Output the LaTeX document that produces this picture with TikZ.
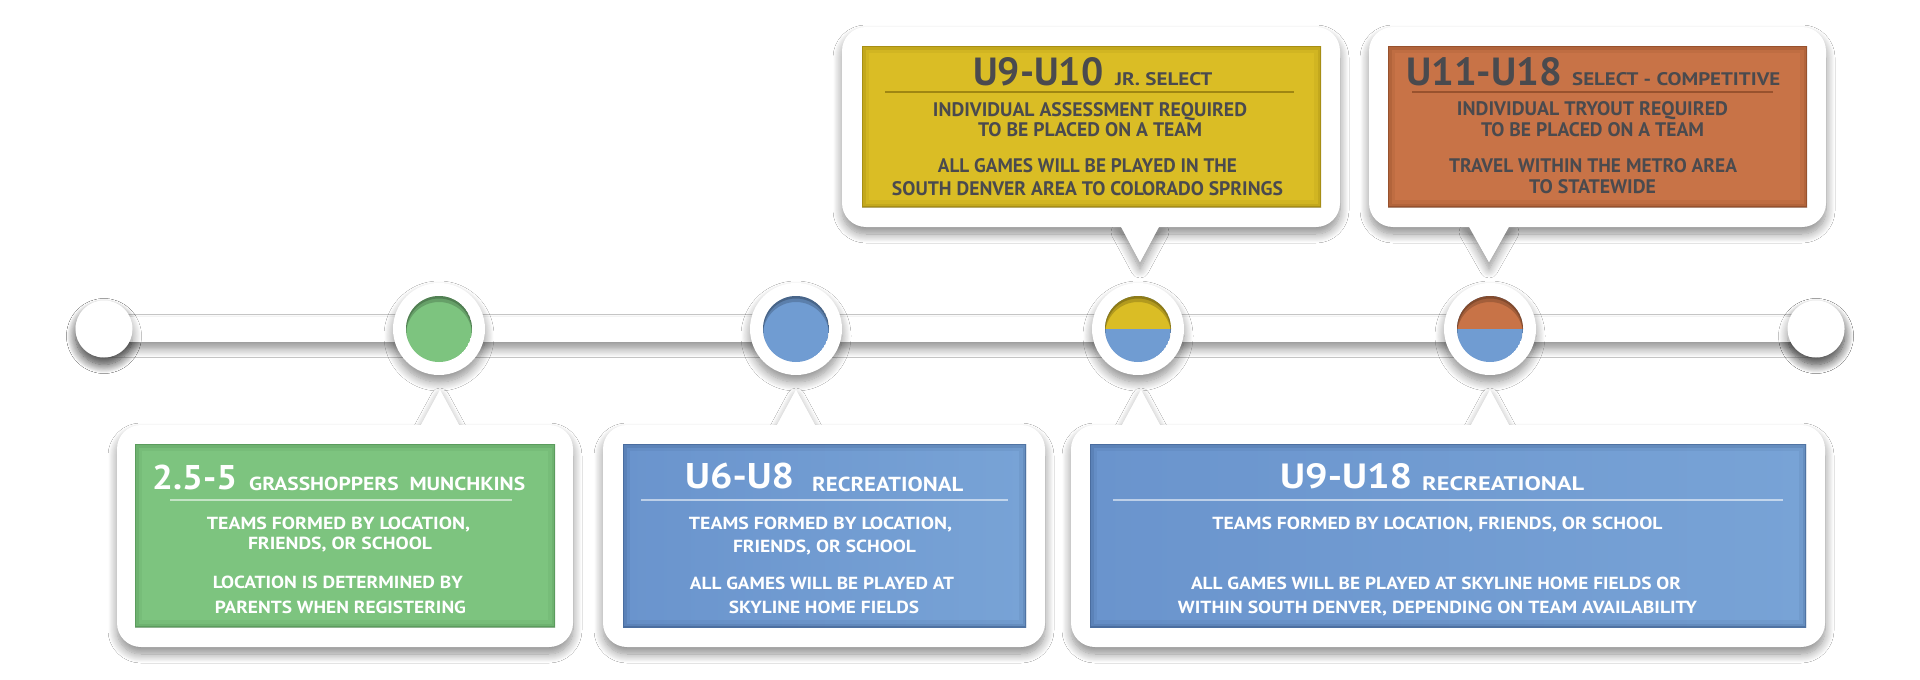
\documentclass[tikz,border=0pt]{standalone}
\usepackage{fontspec}
\usepackage{graphicx}
\setmainfont{PT Sans}
\usetikzlibrary{shadows.blur,calc}
\definecolor{cgreen}{RGB}{125,196,127}
\definecolor{cgreenD}{RGB}{70,130,72}
\definecolor{cblue}{RGB}{112,156,210}
\definecolor{cblueL}{RGB}{106,148,205}
\definecolor{cblueR}{RGB}{120,163,214}
\definecolor{cblueD}{RGB}{55,85,130}
\definecolor{cyel}{RGB}{218,189,37}
\definecolor{cyelD}{RGB}{135,112,10}
\definecolor{corg}{RGB}{200,115,71}
\definecolor{corgD}{RGB}{120,60,30}
\definecolor{tgray}{RGB}{74,74,78}
\newcommand\fit[3]{\resizebox{#1pt}{#2pt}{#3}}
\tikzset{
  x=1pt, y=-1pt,
  sh/.style={blur shadow={shadow xshift=0pt, shadow yshift=-7pt, shadow blur radius=9pt, shadow opacity=45, shadow blur steps=12}},
  outerbox/.style={fill=white, rounded corners=24pt},
  innerbox/.style={path picture={
      \draw[#1, line width=14pt, opacity=0.10] (path picture bounding box.south west) rectangle (path picture bounding box.north east);
      \draw[#1, line width=7pt, opacity=0.18] (path picture bounding box.south west) rectangle (path picture bounding box.north east);
      \draw[#1, line width=2.5pt, opacity=0.45] (path picture bounding box.south west) rectangle (path picture bounding box.north east);}},
  ring/.style={circle, fill=white, minimum size=92pt, inner sep=0pt, sh},
  endpt/.style={circle, fill=white, minimum size=57pt, inner sep=0pt, sh},
  dotarea/.style={circle, minimum size=66pt, inner sep=0pt},
  tx/.style={anchor=base, inner sep=0pt, font=\bfseries},
  txl/.style={anchor=base west, inner sep=0pt, font=\bfseries},
  rim/.style={black, opacity=0.18, line width=12pt},
  rim2/.style={black, opacity=0.2, line width=3pt},
}
\begin{document}
\begin{tikzpicture}
\useasboundingbox[fill=white] (0,0) rectangle (1920,680);

% timeline
\node[endpt] (t0) at (104,329) {};
\node[endpt] (t5) at (1816,329) {};
\path[fill=white, sh] ($(t0.center)+(0,-12.5)$) rectangle ($(t5.center)+(0,12.5)$);
\node[endpt] (t0b) at (t0) {};
\node[endpt] (t5b) at (t5) {};

\node[ring] (m1) at (439,329) {};
\node[ring] (m2) at (796,329) {};
\node[ring] (m3) at (1138,329) {};
\node[ring] (m4) at (1490,329) {};

\begin{scope}
  \clip (m1) circle (33);
  \fill[cgreen] (m1) circle (33);
  \draw[rim] ($(m1)+(0,6)$) circle (39);
  \draw[rim2] ($(m1)+(0,2)$) circle (34);
\end{scope}
\node[dotarea] (d1) at (m1) {};
\begin{scope}
  \clip (m2) circle (33);
  \fill[cblue] (m2) circle (33);
  \draw[rim] ($(m2)+(0,6)$) circle (39);
  \draw[rim2] ($(m2)+(0,2)$) circle (34);
\end{scope}
\node[dotarea] (d2) at (m2) {};
\begin{scope}
  \clip (m3) circle (33);
  \fill[cblue] (m3) circle (33);
  \fill[cyel] ($(m3)+(-40,-40)$) rectangle ($(m3)+(40,0)$);
  \draw[rim] ($(m3)+(0,6)$) circle (39);
  \draw[rim2] ($(m3)+(0,2)$) circle (34);
\end{scope}
\node[dotarea] (d3) at (m3) {};
\begin{scope}
  \clip (m4) circle (33);
  \fill[cblue] (m4) circle (33);
  \fill[corg] ($(m4)+(-40,-40)$) rectangle ($(m4)+(40,0)$);
  \draw[rim] ($(m4)+(0,6)$) circle (39);
  \draw[rim2] ($(m4)+(0,2)$) circle (34);
\end{scope}
\node[dotarea] (d4) at (m4) {};

% ---------- callout A (green) ----------
\coordinate (pA) at ($(m1)+(1,61)$);
\fill[white, sh] (pA) -- ($(pA)+(-20,37)$) -- ($(pA)+(20,37)$) -- cycle;
\path[outerbox, sh] (117,425) rectangle (573,647);
\fill[white] (pA) -- ($(pA)+(-20,37)$) -- ($(pA)+(20,37)$) -- cycle;
\path[fill=cgreen, innerbox=cgreenD] (135,444) rectangle (555,627);
\node[txl, text=white] (hA1) at (152,489) {\fit{85}{24.5}{2.5-5}};
\node[txl, text=white] (hA2) at (249,490) {\fit{276}{13.5}{GRASSHOPPERS\ \ MUNCHKINS}};
\draw[white, opacity=0.55, line width=1.2pt] (170,500) -- (512,500);
\node[tx, text=white] (a1) at (338.5,529) {\fit{263}{12.5}{TEAMS FORMED BY LOCATION,}};
\node[tx, text=white] (a2) at (340,549) {\fit{184}{12.5}{FRIENDS, OR SCHOOL}};
\node[tx, text=white] (a3) at (338,588) {\fit{250}{12.5}{LOCATION IS DETERMINED BY}};
\node[tx, text=white] (a4) at (340.5,613) {\fit{251}{12.5}{PARENTS WHEN REGISTERING}};

% ---------- callout B (blue U6-U8) ----------
\coordinate (pB) at ($(m2)+(0,61)$);
\fill[white, sh] (pB) -- ($(pB)+(-20,37)$) -- ($(pB)+(20,37)$) -- cycle;
\path[outerbox, sh] (603,425) rectangle (1045,647);
\fill[white] (pB) -- ($(pB)+(-20,37)$) -- ($(pB)+(20,37)$) -- cycle;
\path[left color=cblueL, right color=cblueR, innerbox=cblueD] (623,444) rectangle (1026,627);
\node[txl, text=white] (hB1) at (685,488) {\fit{109}{25.5}{U6-U8}};
\node[txl, text=white] (hB2) at (812,491) {\fit{151}{14.5}{RECREATIONAL}};
\draw[white, opacity=0.55, line width=1.2pt] (641,500) -- (1008,500);
\node[tx, text=white] (b1) at (820.5,529) {\fit{263}{12.5}{TEAMS FORMED BY LOCATION,}};
\node[tx, text=white] (b2) at (824.5,552) {\fit{183}{12.5}{FRIENDS, OR SCHOOL}};
\node[tx, text=white] (b3) at (822,589) {\fit{264}{12.5}{ALL GAMES WILL BE PLAYED AT}};
\node[tx, text=white] (b4) at (824,613) {\fit{190}{12.5}{SKYLINE HOME FIELDS}};

% ---------- callout C (blue U9-U18) ----------
\coordinate (pC1) at ($(m3)+(3,61)$);
\coordinate (pC2) at ($(m4)+(0,61)$);
\fill[white, sh] (pC1) -- ($(pC1)+(-20,37)$) -- ($(pC1)+(20,37)$) -- cycle;
\fill[white, sh] (pC2) -- ($(pC2)+(-20,37)$) -- ($(pC2)+(20,37)$) -- cycle;
\path[outerbox, sh] (1071,425) rectangle (1825,647);
\fill[white] (pC1) -- ($(pC1)+(-20,37)$) -- ($(pC1)+(20,37)$) -- cycle;
\fill[white] (pC2) -- ($(pC2)+(-20,37)$) -- ($(pC2)+(20,37)$) -- cycle;
\path[left color=cblueL, right color=cblueR, innerbox=cblueD] (1090,444) rectangle (1806,627);
\node[txl, text=white] (hC1) at (1280,488) {\fit{132}{25}{U9-U18}};
\node[txl, text=white] (hC2) at (1422,490) {\fit{162}{14}{RECREATIONAL}};
\draw[white, opacity=0.55, line width=1.2pt] (1113,500) -- (1783,500);
\node[tx, text=white] (c1) at (1437.5,529) {\fit{450}{12.5}{TEAMS FORMED BY LOCATION, FRIENDS, OR SCHOOL}};
\node[tx, text=white] (c2) at (1436,589) {\fit{490}{12.5}{ALL GAMES WILL BE PLAYED AT SKYLINE HOME FIELDS OR}};
\node[tx, text=white] (c3) at (1437.5,613) {\fit{519}{12.5}{WITHIN SOUTH DENVER, DEPENDING ON TEAM AVAILABILITY}};

% ---------- callout D (yellow top) ----------
\coordinate (pD) at ($(m3)+(2,-67)$);
\fill[white, sh] (pD) -- ($(pD)+(-20,-37)$) -- ($(pD)+(20,-37)$) -- cycle;
\path[outerbox, sh] (842,27) rectangle (1340,227);
\fill[white] (pD) -- ($(pD)+(-20,-37)$) -- ($(pD)+(20,-37)$) -- cycle;
\path[fill=cyel, innerbox=cyelD] (862,46) rectangle (1321,207);
\node[txl, text=tgray] (hD1) at (973,85) {\fit{130}{28}{U9-U10}};
\node[txl, text=tgray] (hD2) at (1115,85) {\fit{97}{13}{JR. SELECT}};
\draw[cyelD, opacity=0.7, line width=1.2pt] (885,92) -- (1294,92);
\node[tx, text=tgray] (e1) at (1090,116) {\fit{314}{14}{INDIVIDUAL ASSESSMENT REQUIRED}};
\node[tx, text=tgray] (e2) at (1090,136) {\fit{224}{14}{TO BE PLACED ON A TEAM}};
\node[tx, text=tgray] (e3) at (1087.5,172) {\fit{299}{14}{ALL GAMES WILL BE PLAYED IN THE}};
\node[tx, text=tgray] (e4) at (1087.5,195) {\fit{391}{14}{SOUTH DENVER AREA TO COLORADO SPRINGS}};

% ---------- callout E (orange top) ----------
\coordinate (pE) at ($(m4)+(-1,-67)$);
\fill[white, sh] (pE) -- ($(pE)+(-21,-37)$) -- ($(pE)+(21,-37)$) -- cycle;
\path[outerbox, sh] (1369,27) rectangle (1826,227);
\fill[white] (pE) -- ($(pE)+(-21,-37)$) -- ($(pE)+(21,-37)$) -- cycle;
\path[fill=corg, innerbox=corgD] (1388,46) rectangle (1807,207);
\node[txl, text=tgray] (hE1) at (1406,85) {\fit{156}{28}{U11-U18}};
\node[txl, text=tgray] (hE2) at (1572,85) {\fit{208}{13}{SELECT - COMPETITIVE}};
\draw[corgD, opacity=0.6, line width=1.2pt] (1412,92) -- (1773,92);
\node[tx, text=tgray] (f1) at (1592.5,115) {\fit{271}{14}{INDIVIDUAL TRYOUT REQUIRED}};
\node[tx, text=tgray] (f2) at (1592.5,136) {\fit{223}{14}{TO BE PLACED ON A TEAM}};
\node[tx, text=tgray] (f3) at (1593,172) {\fit{288}{14}{TRAVEL WITHIN THE METRO AREA}};
\node[tx, text=tgray] (f4) at (1592.5,193) {\fit{127}{14}{TO STATEWIDE}};
\end{tikzpicture}
\end{document}
